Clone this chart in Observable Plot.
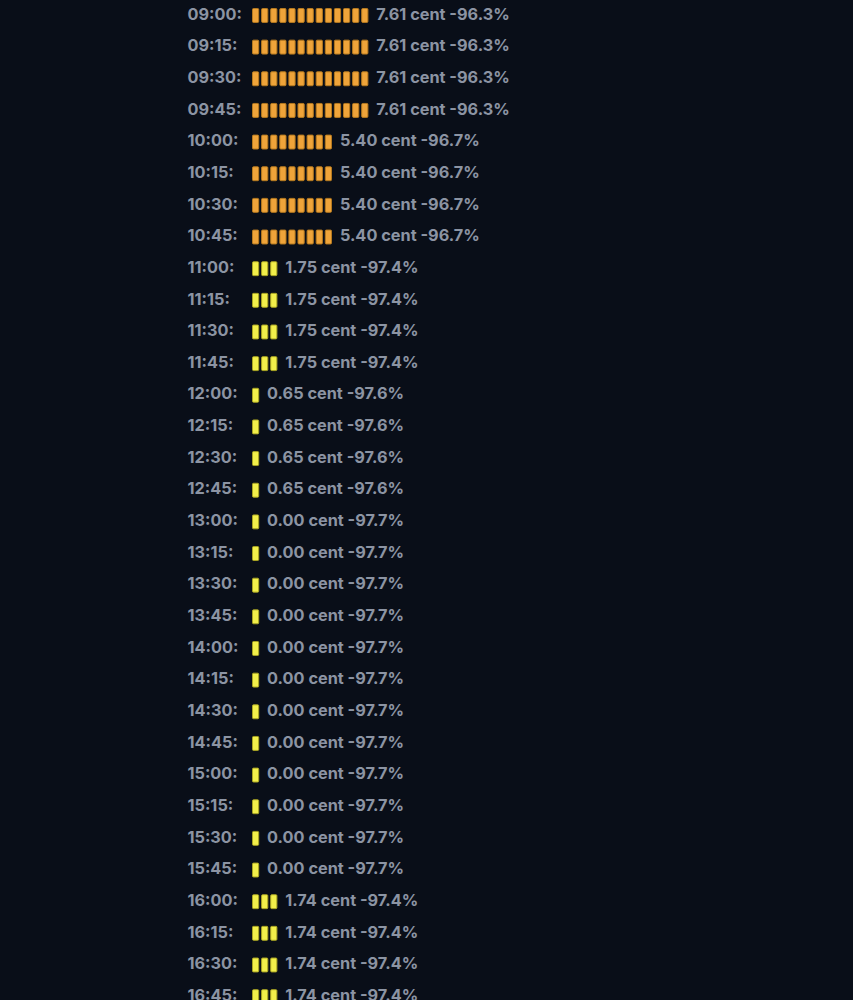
<!DOCTYPE html>
<html>
<head>
<meta charset="utf-8">
<script src="https://cdn.jsdelivr.net/npm/d3@7"></script>
<script src="https://cdn.jsdelivr.net/npm/@observablehq/plot@0.6"></script>
<style>
  html, body { margin: 0; padding: 0; background: #090e18; }
  #chart { width: 853px; height: 1000px; overflow: hidden; }
</style>
</head>
<body>
<div id="chart"></div>
<script>
const times = ["09:00","09:15","09:30","09:45","10:00","10:15","10:30","10:45",
  "11:00","11:15","11:30","11:45","12:00","12:15","12:30","12:45",
  "13:00","13:15","13:30","13:45","14:00","14:15","14:30","14:45",
  "15:00","15:15","15:30","15:45","16:00","16:15","16:30","16:45"];
const prices = [7.61,7.61,7.61,7.61,5.40,5.40,5.40,5.40,
  1.75,1.75,1.75,1.75,0.65,0.65,0.65,0.65,
  0.00,0.00,0.00,0.00,0.00,0.00,0.00,0.00,
  0.00,0.00,0.00,0.00,1.74,1.74,1.74,1.74];
const changes = [-96.3,-96.3,-96.3,-96.3,-96.7,-96.7,-96.7,-96.7,
  -97.4,-97.4,-97.4,-97.4,-97.6,-97.6,-97.6,-97.6,
  -97.7,-97.7,-97.7,-97.7,-97.7,-97.7,-97.7,-97.7,
  -97.7,-97.7,-97.7,-97.7,-97.4,-97.4,-97.4,-97.4];
const blockCounts = [13,13,13,13,9,9,9,9,
  3,3,3,3,1,1,1,1,
  1,1,1,1,1,1,1,1,
  1,1,1,1,3,3,3,3];
const levels = ["high","high","high","high","high","high","high","high",
  "low","low","low","low","low","low","low","low",
  "low","low","low","low","low","low","low","low",
  "low","low","low","low","low","low","low","low"];

const rows = times.map((t, i) => ({
  time: t, price: prices[i], change: changes[i], blocks: blockCounts[i], level: levels[i]
}));
const blocks = rows.flatMap(r => d3.range(r.blocks).map(k => ({time: r.time, k, level: r.level})));

const fillColor = {high: "#efa43a", low: "#f2ef4a"};
const strokeColor = {high: "#b5791f", low: "#a8a322"};
const textColor = "#8c94a3";

const chart = Plot.plot({
  width: 853,
  height: 1000,
  margin: 0,
  style: {background: "#090e18", fontFamily: "Inter, 'Open Sans', sans-serif"},
  x: {type: "linear", domain: [0, 13], range: [252, 370.3], axis: null},
  y: {type: "band", domain: times, range: [8.5, 1003.6], paddingInner: 0.56, paddingOuter: 0, round: false, axis: null},
  marks: [
    Plot.barX(blocks, {
      x1: d => d.k, x2: d => d.k + 1, y: "time",
      fill: d => fillColor[d.level], stroke: d => strokeColor[d.level],
      strokeWidth: 1, insetLeft: 0.5, insetRight: 2.4, rx: 1
    }),
    Plot.text(rows, {
      x: () => 0, y: "time", text: d => d.time + ":",
      textAnchor: "start", dx: -65, dy: -1.5,
      fill: textColor, fontSize: 16.3, fontWeight: 700
    }),
    Plot.text(rows, {
      x: "blocks", y: "time",
      text: d => `${d.price.toFixed(2)} cent ${d.change.toFixed(1)}%`,
      textAnchor: "start", dx: 5.5, dy: -1.5,
      fill: textColor, fontSize: 16.3, fontWeight: 700
    })
  ]
});
document.getElementById("chart").appendChild(chart);
</script>
</body>
</html>
